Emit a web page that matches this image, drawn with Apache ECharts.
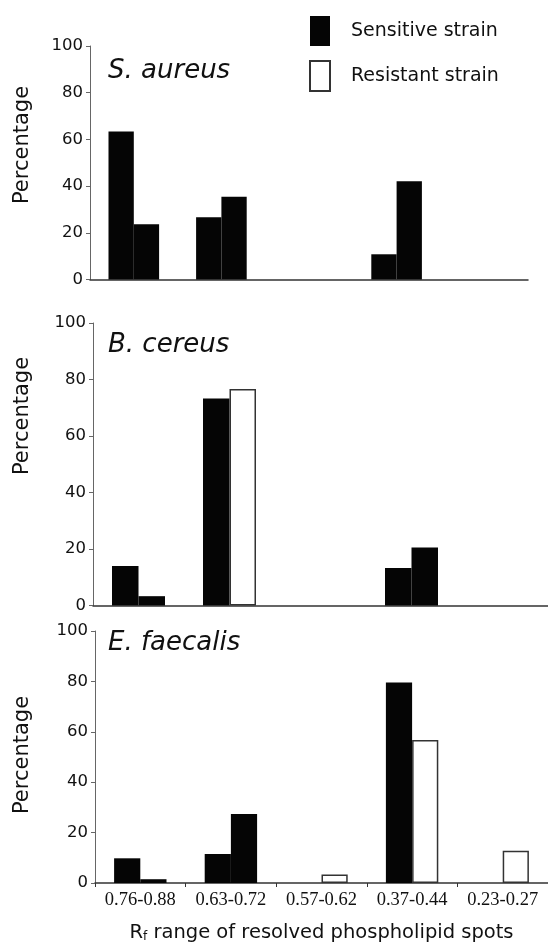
<!DOCTYPE html>
<html>
<head>
<meta charset="utf-8">
<script src="https://cdn.jsdelivr.net/npm/echarts@6/dist/echarts.min.js"></script>
<style>
  html, body { margin: 0; padding: 0; background: #fff; }
  #chart { width: 548px; height: 945px; }
</style>
</head>
<body>
<div id="chart"></div>
<script>
// Rf ranges (x categories)
let categories = ['0.76-0.88', '0.63-0.72', '0.57-0.62', '0.37-0.44', '0.23-0.27']
let speciesNames = ['S. aureus', 'B. cereus', 'E. faecalis']
let seriesNames = ['Sensitive strain', 'Resistant strain']

// percentages (0 = no bar)
let aureusSensitive = [63.4, 26.7, 0, 10.8, 0]
let aureusResistant = [23.7, 35.4, 0, 42.1, 0]
let cereusSensitive = [14.0, 73.3, 0, 13.3, 0]
let cereusResistant = [3.3, 76.6, 0, 20.5, 0]
let faecalisSensitive = [9.8, 11.5, 0, 79.6, 0]
let faecalisResistant = [1.5, 27.4, 3.4, 56.7, 12.8]

// in the original some resistant bars are printed solid black
let aureusResistantSolid = [true, true, false, true, false]
let cereusResistantSolid = [true, false, false, true, false]
let faecalisResistantSolid = [true, true, false, false, false]

const FONT = 'Verdana, "DejaVu Sans", sans-serif'
const BLACK = '#050505'

let chart = echarts.init(document.getElementById('chart'))

let panels = [
  {sens: aureusSensitive, res: aureusResistant, solid: aureusResistantSolid,
    grid: {left: 90, top: 46, width: 438, height: 233.5}, barWidth: 25.3,
    titleY: 72.5, nameY: 145, labels: false},
  {sens: cereusSensitive, res: cereusResistant, solid: cereusResistantSolid,
    grid: {left: 93, top: 323, width: 457, height: 282.5}, barWidth: 26.5,
    titleY: 346, nameY: 416, labels: false},
  {sens: faecalisSensitive, res: faecalisResistant, solid: faecalisResistantSolid,
    grid: {left: 95, top: 631, width: 461, height: 252}, barWidth: 26.2,
    titleY: 644, nameY: 755, labels: true}
]

let grids = [], xAxes = [], yAxes = [], series = [], graphics = []

panels.forEach(function (p, k) {
  grids.push(p.grid)
  xAxes.push({
    type: 'category',
    gridIndex: k,
    data: categories,
    axisLine: {lineStyle: {color: '#333', width: 1.5}},
    axisTick: {show: p.labels, interval: 0, length: 4, lineStyle: {color: '#333'}},
    axisLabel: {show: p.labels, interval: 0, hideOverlap: false, margin: 8,
      fontFamily: '"Liberation Serif", "Times New Roman", serif', fontSize: 18.5, color: '#111'},
    name: p.labels ? 'R{sub|f} range of resolved phospholipid spots' : '',
    nameLocation: 'middle',
    nameGap: 40,
    nameTextStyle: {
      fontFamily: FONT, fontSize: 19.5, color: '#111',
      rich: {sub: {fontFamily: FONT, fontSize: 12, color: '#111', verticalAlign: 'bottom', padding: [8, 0, 0, 0]}}
    }
  })
  yAxes.push({
    type: 'value',
    gridIndex: k,
    min: 0,
    max: 100,
    interval: 20,
    splitLine: {show: false},
    axisLine: {show: true, lineStyle: {color: '#666', width: 1}},
    axisTick: {show: true, length: 4, lineStyle: {color: '#666'}},
    axisLabel: {margin: 7, fontFamily: FONT, fontSize: 16.5, color: '#111'}
  })
  series.push({
    name: seriesNames[0],
    type: 'bar',
    xAxisIndex: k,
    yAxisIndex: k,
    barWidth: p.barWidth,
    barGap: 0,
    itemStyle: {color: BLACK},
    data: p.sens.map(function (v) { return v === 0 ? '-' : v })
  })
  series.push({
    name: seriesNames[1],
    type: 'bar',
    xAxisIndex: k,
    yAxisIndex: k,
    barWidth: p.barWidth,
    barGap: 0,
    itemStyle: {color: '#fff', borderColor: '#333', borderWidth: 1.5},
    data: p.res.map(function (v, i) {
      if (v === 0) return '-'
      if (p.solid[i]) return {value: v, itemStyle: {color: BLACK, borderWidth: 0}}
      return v
    })
  })
  graphics.push({
    type: 'text',
    left: 108,
    top: p.titleY - 14,
    style: {text: speciesNames[k], font: 'italic 26px ' + FONT, fill: '#111'}
  })
  graphics.push({
    type: 'text',
    x: 23,
    y: p.nameY,
    rotation: Math.PI / 2,
    style: {text: 'Percentage', font: '21px ' + FONT, fill: '#111', align: 'center', verticalAlign: 'middle'}
  })
})

let option = {
  animation: false,
  backgroundColor: '#fff',
  legend: {
    orient: 'vertical',
    left: 309,
    top: 16,
    padding: 0,
    itemWidth: 20,
    itemHeight: 30,
    itemGap: 14,
    icon: 'rect',
    data: seriesNames,
    textStyle: {fontFamily: FONT, fontSize: 19, color: '#111', padding: [7, 0, 0, 16]}
  },
  grid: grids,
  xAxis: xAxes,
  yAxis: yAxes,
  series: series,
  graphic: graphics
}
chart.setOption(option)
</script>
</body>
</html>
